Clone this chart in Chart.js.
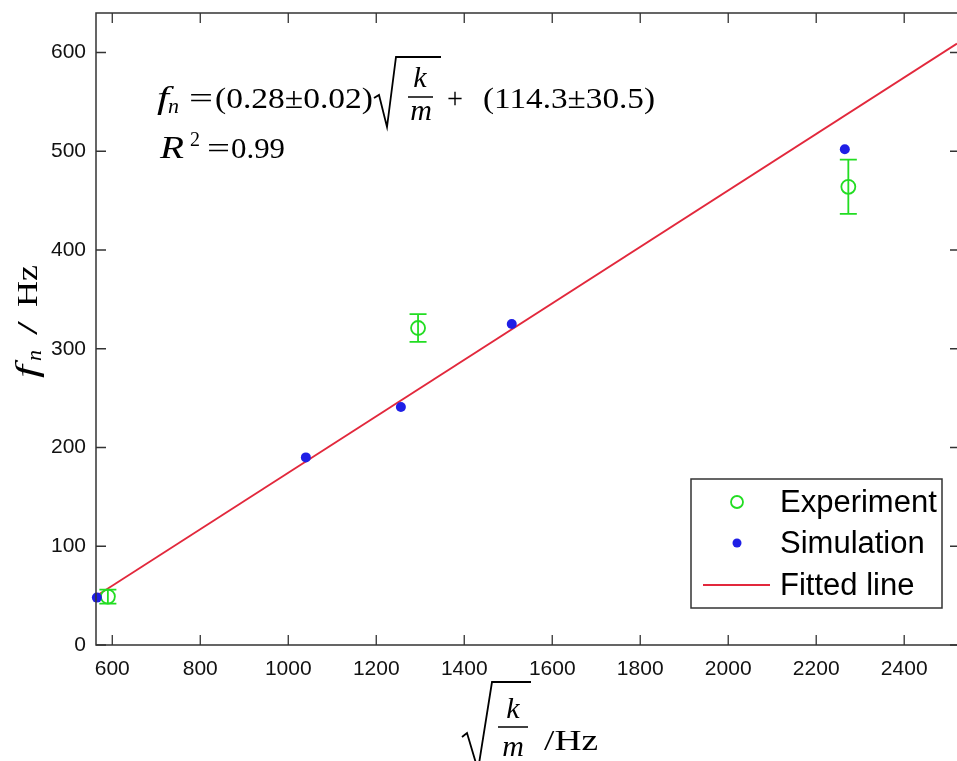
<!DOCTYPE html>
<html>
<head>
<meta charset="utf-8">
<script src="https://cdn.jsdelivr.net/npm/chart.js@4/dist/chart.umd.min.js"></script>
<style>
  html, body { margin: 0; padding: 0; background: #fff; overflow: hidden; }
  canvas { display: block; }
</style>
</head>
<body>
<canvas id="chartFreq" width="957" height="761"></canvas>
<script>
/*-------------------
    DATA
--------------------*/
const xTicks = [600, 800, 1000, 1200, 1400, 1600, 1800, 2000, 2200, 2400];
const yTicks = [0, 100, 200, 300, 400, 500, 600];

// experiment (green circles with error bars)
const expX = [590, 1295, 2273];
const expY = [49, 321, 464];
const expErr = [7, 14, 27.5];

// simulation (blue dots)
const simX = [565, 1040, 1256, 1508, 2265];
const simY = [48, 190, 241, 325, 502];

// fitted line end points
const fitX = [568, 2520];
const fitY = [51, 609];

const GREEN = '#22dd22';
const BLUE = '#1f1fe6';
const RED = '#e2283c';
const AXIS = '#333';
const SERIF = "'Liberation Serif', 'Times New Roman', serif";
const SANS = "'Liberation Sans', Arial, sans-serif";

/*-------------------
    PLUGINS
--------------------*/
// error bars on the experiment points
const errorBars = {
    id: 'errorBars',
    afterDatasetsDraw(chart) {
        const ctx = chart.ctx;
        const xs = chart.scales.x, ys = chart.scales.y;
        ctx.save();
        ctx.strokeStyle = GREEN;
        ctx.lineWidth = 1.8;
        expX.forEach((v, i) => {
            const px = xs.getPixelForValue(v);
            const top = ys.getPixelForValue(expY[i] + expErr[i]);
            const bot = ys.getPixelForValue(expY[i] - expErr[i]);
            ctx.beginPath();
            ctx.moveTo(px, top); ctx.lineTo(px, bot);
            ctx.moveTo(px - 8.5, top); ctx.lineTo(px + 8.5, top);
            ctx.moveTo(px - 8.5, bot); ctx.lineTo(px + 8.5, bot);
            ctx.stroke();
        });
        ctx.restore();
    }
};

// box + inward ticks (matlab style); the right axis is cut off by the page edge
const boxTicks = {
    id: 'boxTicks',
    afterDraw(chart) {
        const ctx = chart.ctx, a = chart.chartArea;
        const xs = chart.scales.x, ys = chart.scales.y;
        const rx = a.right + 3;
        ctx.save();
        ctx.strokeStyle = AXIS;
        ctx.lineWidth = 1.5;
        ctx.beginPath();
        ctx.moveTo(rx, a.top); ctx.lineTo(a.left, a.top);
        ctx.lineTo(a.left, a.bottom); ctx.lineTo(rx, a.bottom);
        ctx.stroke();
        ctx.lineWidth = 1.3;
        ctx.beginPath();
        xTicks.forEach(v => {
            const p = xs.getPixelForValue(v);
            ctx.moveTo(p, a.bottom); ctx.lineTo(p, a.bottom - 10);
            ctx.moveTo(p, a.top); ctx.lineTo(p, a.top + 10);
        });
        yTicks.forEach(v => {
            const p = ys.getPixelForValue(v);
            ctx.moveTo(a.left, p); ctx.lineTo(a.left + 10, p);
            ctx.moveTo(rx, p); ctx.lineTo(rx - 10, p);
        });
        ctx.stroke();
        ctx.restore();
    }
};

function txt(ctx, s, x, y, font, w) {
    ctx.font = font;
    if (w) {
        const m = ctx.measureText(s).width;
        ctx.save();
        ctx.translate(x, y);
        ctx.scale(w / m, 1);
        ctx.fillText(s, 0, 0);
        ctx.restore();
    } else {
        ctx.fillText(s, x, y);
    }
}

function radical(ctx, pts) {
    ctx.beginPath();
    ctx.moveTo(pts[0][0], pts[0][1]);
    pts.slice(1).forEach(p => ctx.lineTo(p[0], p[1]));
    ctx.stroke();
}

// formula, axis titles and legend
const mathText = {
    id: 'mathText',
    afterDraw(chart) {
        const ctx = chart.ctx, a = chart.chartArea;
        const it = 'italic 30px ' + SERIF, rm = '30px ' + SERIF;
        ctx.save();
        ctx.fillStyle = '#000';
        ctx.strokeStyle = '#000';
        ctx.textAlign = 'left';
        ctx.textBaseline = 'alphabetic';

        // fit equation
        txt(ctx, 'f', 157, 108, 'italic 32px ' + SERIF, 12);
        txt(ctx, 'n', 168, 113, 'italic 20px ' + SERIF, 11);
        txt(ctx, '=', 189, 108, rm, 24);
        txt(ctx, '(0.28\u00b10.02)', 215, 108, rm, 158);
        ctx.lineWidth = 1.8;
        radical(ctx, [[374, 98], [379, 95], [387, 127], [396, 57], [441, 57]]);
        ctx.textAlign = 'center';
        txt(ctx, 'k', 420, 87, it);
        txt(ctx, 'm', 421, 120, it);
        ctx.lineWidth = 1.5;
        ctx.beginPath(); ctx.moveTo(408, 97); ctx.lineTo(433, 97); ctx.stroke();
        ctx.textAlign = 'left';
        txt(ctx, '+', 447, 108, rm, 16);
        txt(ctx, '(114.3\u00b130.5)', 483, 108, rm, 172);

        txt(ctx, 'R', 160, 158, 'italic 32px ' + SERIF, 24);
        txt(ctx, '2', 190, 146, '20px ' + SERIF);
        txt(ctx, '=', 207, 158, rm, 23);
        txt(ctx, '0.99', 231, 158, rm, 54);

        // x title
        ctx.lineWidth = 1.8;
        radical(ctx, [[462, 737], [467, 733], [478, 770], [492, 682], [531, 682]]);
        ctx.textAlign = 'center';
        txt(ctx, 'k', 513, 718, it);
        txt(ctx, 'm', 513, 756, it);
        ctx.lineWidth = 1.5;
        ctx.beginPath(); ctx.moveTo(498, 727); ctx.lineTo(528, 727); ctx.stroke();
        ctx.textAlign = 'left';
        txt(ctx, '/Hz', 544, 750, rm, 54);

        // y title
        ctx.save();
        ctx.translate(37, 380);
        ctx.rotate(-Math.PI / 2);
        txt(ctx, 'f', 2, 0, 'italic 32px ' + SERIF, 13);
        txt(ctx, 'n', 19, 4, 'italic 20px ' + SERIF, 11);
        txt(ctx, '/', 45, 0, rm, 14);
        txt(ctx, 'Hz', 73, 0, rm, 42);
        ctx.restore();

        // legend
        const bx = a.right - 266, by = a.bottom - 166, bw = 251, bh = 129;
        ctx.fillStyle = '#fff';
        ctx.fillRect(bx, by, bw, bh);
        ctx.strokeStyle = AXIS;
        ctx.lineWidth = 1.5;
        ctx.strokeRect(bx, by, bw, bh);
        const rows = [by + 23, by + 64, by + 106];
        ctx.strokeStyle = GREEN;
        ctx.lineWidth = 1.8;
        ctx.beginPath(); ctx.arc(bx + 46, rows[0], 6, 0, Math.PI * 2); ctx.stroke();
        ctx.fillStyle = BLUE;
        ctx.beginPath(); ctx.arc(bx + 46, rows[1], 4.5, 0, Math.PI * 2); ctx.fill();
        ctx.strokeStyle = RED;
        ctx.lineWidth = 1.8;
        ctx.beginPath(); ctx.moveTo(bx + 12, rows[2]); ctx.lineTo(bx + 79, rows[2]); ctx.stroke();
        ctx.fillStyle = '#000';
        ctx.textBaseline = 'middle';
        const labels = chart.data.datasets.map(d => d.label);
        labels.forEach((l, i) => txt(ctx, l, bx + 89, rows[i] + 1, '31px ' + SANS));
        ctx.restore();
    }
};

/*-------------------
    CHART
--------------------*/
const canvas = document.getElementById('chartFreq');

new Chart(canvas, {
    type: 'scatter',
    data: {
        datasets: [
            {
                label: 'Experiment',
                data: expX.map((x, i) => ({x: x, y: expY[i]})),
                pointStyle: 'circle',
                pointRadius: 7,
                borderColor: GREEN,
                backgroundColor: 'rgba(0,0,0,0)',
                borderWidth: 1.8,
                clip: false,
                order: 1
            },
            {
                label: 'Simulation',
                data: simX.map((x, i) => ({x: x, y: simY[i]})),
                pointRadius: 5,
                borderWidth: 0,
                backgroundColor: BLUE,
                borderColor: BLUE,
                clip: false,
                order: 0
            },
            {
                label: 'Fitted line',
                type: 'line',
                data: fitX.map((x, i) => ({x: x, y: fitY[i]})),
                borderColor: RED,
                borderWidth: 1.8,
                pointRadius: 0,
                fill: false,
                order: 2
            }
        ]
    },
    options: {
        responsive: false,
        devicePixelRatio: 1,
        animation: false,
        layout: {autoPadding: false, padding: {top: 13, right: 0, left: 0, bottom: 0}},
        plugins: {
            legend: {display: false},
            tooltip: {enabled: false}
        },
        scales: {
            x: {
                type: 'linear',
                min: 563, max: 2520,
                afterFit: s => { s.height = 116; s.paddingLeft = 0; s.paddingRight = 0; },
                afterBuildTicks: s => { s.ticks = xTicks.map(v => ({value: v})); },
                grid: {display: false},
                border: {display: false},
                ticks: {color: '#111', padding: 4, font: {family: SANS, size: 21}, maxRotation: 0,
                        callback: v => String(v)}
            },
            y: {
                min: 0, max: 640,
                afterFit: s => { s.width = 96; s.paddingTop = 0; s.paddingBottom = 0; },
                afterBuildTicks: s => { s.ticks = yTicks.map(v => ({value: v})); },
                grid: {display: false},
                border: {display: false},
                ticks: {color: '#111', padding: 2, font: {family: SANS, size: 21},
                        callback: v => String(v)}
            }
        }
    },
    plugins: [errorBars, boxTicks, mathText]
});
</script>
</body>
</html>
